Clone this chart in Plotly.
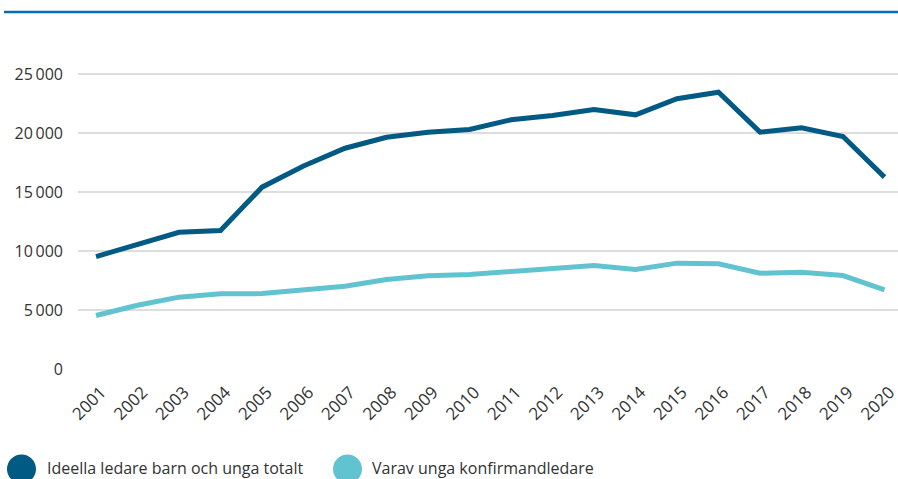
import plotly.graph_objects as go

years = list(range(2001, 2021))
totalt = [9530, 10550, 11590, 11740, 15410, 17200, 18710, 19640, 20070, 20300,
          21120, 21480, 21990, 21540, 22900, 23460, 20070, 20440, 19700, 16260]
konfirmand = [4530, 5400, 6090, 6370, 6390, 6710, 7020, 7590, 7900, 8010,
              8290, 8580, 8770, 8430, 8970, 8910, 8120, 8200, 7920, 6710]
series_names = ["Ideella ledare barn och unga totalt", "Varav unga konfirmandledare"]
y_tickvals = [0, 5000, 10000, 15000, 20000, 25000]
y_ticktext = ["0", "5\u2009000", "10\u2009000", "15\u2009000", "20\u2009000", "25\u2009000"]

dark = "#015a84"
light = "#62c3d0"
font_family = "Open Sans, Noto Sans, sans-serif"

W, H = 898, 479
ml, mr, mt, mb = 78, 0, 20, 110
plot_w = W - ml - mr
plot_h = H - mt - mb

fig = go.Figure()
fig.add_trace(go.Scatter(x=years, y=totalt, mode="lines", name=series_names[0],
                         line=dict(color=dark, width=5), showlegend=False))
fig.add_trace(go.Scatter(x=years, y=konfirmand, mode="lines", name=series_names[1],
                         line=dict(color=light, width=5), showlegend=False))

def px_to_paper_x(px):
    return (px - ml) / plot_w

def px_to_paper_y(py):
    return (H - mb - py) / plot_h

shapes = [
    dict(type="line", xref="paper", yref="paper",
         x0=px_to_paper_x(4), x1=px_to_paper_x(898),
         y0=px_to_paper_y(12), y1=px_to_paper_y(12),
         line=dict(color="#0a6ab4", width=2.5)),
]
annotations = []
legend_items = [(series_names[0], dark, 21.5, 45), (series_names[1], light, 347.5, 370)]
for name, col, cx, tx in legend_items:
    shapes.append(dict(type="circle", xref="paper", yref="paper",
                       xsizemode="pixel", ysizemode="pixel",
                       xanchor=px_to_paper_x(cx), yanchor=px_to_paper_y(469),
                       x0=-14.5, x1=14.5, y0=-14.5, y1=14.5,
                       fillcolor=col, line=dict(width=0)))
    annotations.append(dict(text=name, xref="paper", yref="paper",
                            x=px_to_paper_x(tx), y=px_to_paper_y(468),
                            xanchor="left", yanchor="middle", showarrow=False,
                            font=dict(size=16, color="#333333", family=font_family)))

fig.update_layout(
    width=W, height=H,
    margin=dict(l=ml, r=mr, t=mt, b=mb),
    paper_bgcolor="white", plot_bgcolor="white",
    font=dict(family=font_family, color="#333333", size=16),
    shapes=shapes, annotations=annotations,
    showlegend=False,
)
fig.update_xaxes(
    range=[2000.566, 2020.325], tickvals=years, ticktext=[str(y) for y in years],
    tickangle=-45, showgrid=False, zeroline=False, showline=False, automargin=False,
    tickfont=dict(size=17, color="#333333"), ticklabelshift=5, ticklabelstandoff=9,
    ticklabeloverflow="allow",
)
fig.update_yaxes(
    range=[0, plot_h * 5000 / 59], tickvals=y_tickvals, ticktext=y_ticktext,
    showgrid=True, gridcolor="#dddddd", gridwidth=1.5, zeroline=False, showline=False,
    automargin=False,
    tickfont=dict(size=16, color="#333333"), ticklabelstandoff=14,
)

fig.write_html(
    "out.html",
    config={"displayModeBar": False},
    post_script="document.body.style.margin='0';document.body.style.overflow='hidden';",
)
